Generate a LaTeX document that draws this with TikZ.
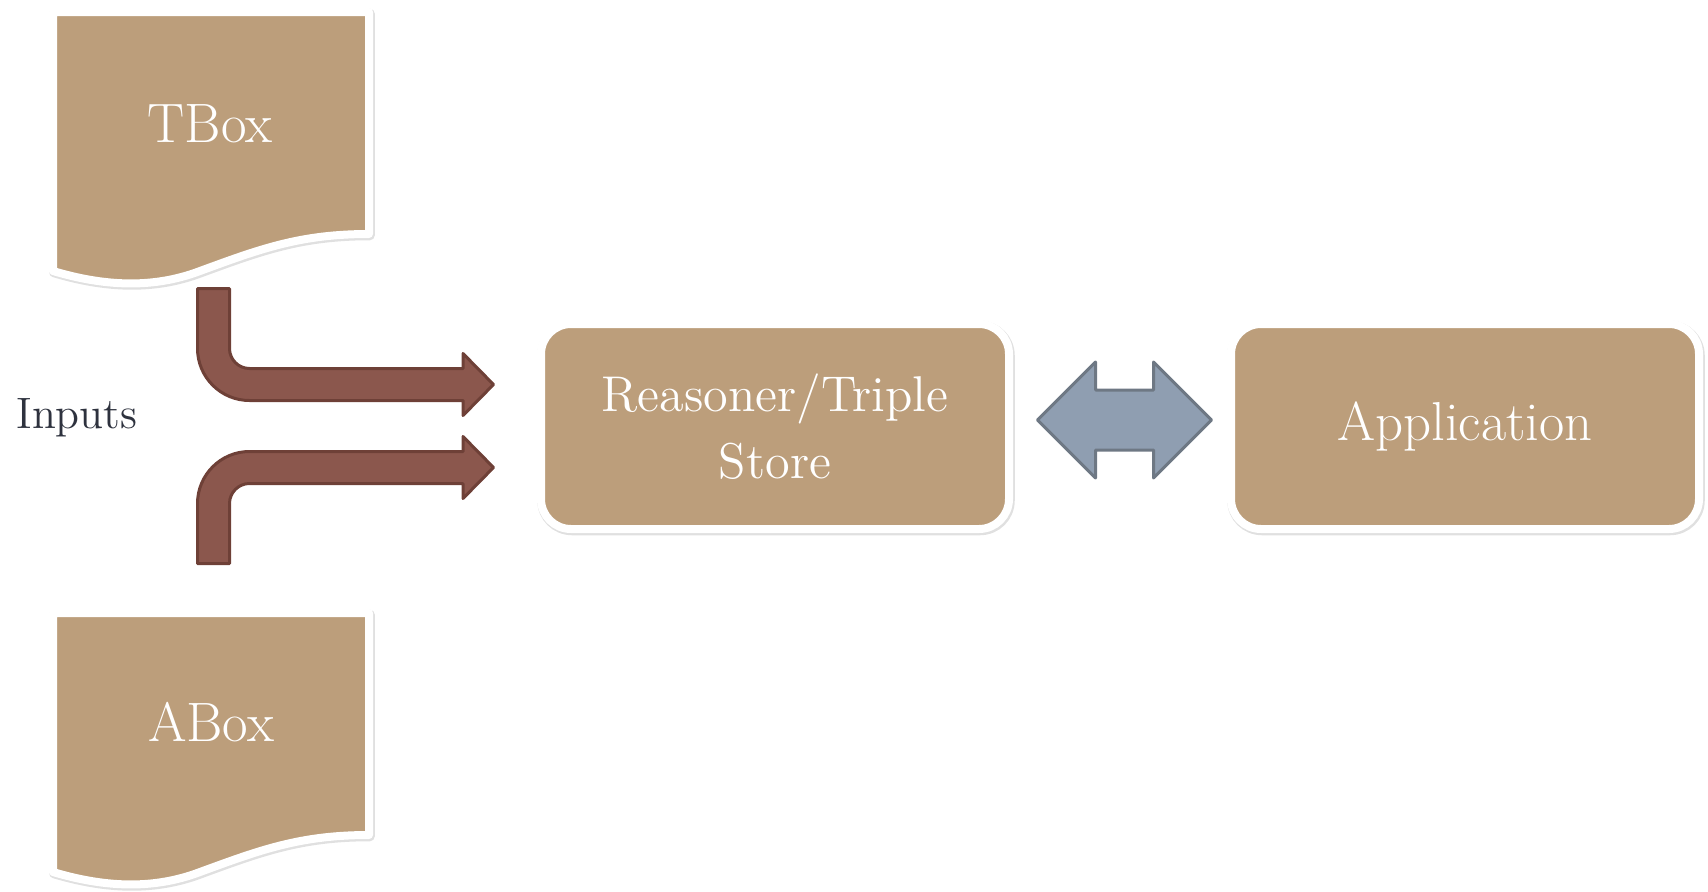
\documentclass[tikz,border=0pt]{standalone}
\usetikzlibrary{shapes.arrows}

\definecolor{tan}{RGB}{188,158,123}
\definecolor{rust}{RGB}{139,87,77}
\definecolor{rustline}{RGB}{110,64,55}
\definecolor{slate}{RGB}{143,158,177}
\definecolor{slateline}{RGB}{110,120,132}
\definecolor{inktext}{RGB}{46,50,62}

\tikzset{
    doc/.style={draw=white, fill=tan, line width=0.8mm, line join=round,
        preaction={draw=black!12, line width=0.95mm, line join=round,
            transform canvas={xshift=0.1mm, yshift=-0.15mm}}},
    card/.style={draw=white, fill=tan, line width=0.8mm, rounded corners=3mm,
        minimum width=46.8mm, minimum height=20.5mm, inner sep=0pt,
        text=white, align=center,
        preaction={draw=black!12, line width=0.95mm,
            transform canvas={xshift=0.1mm, yshift=-0.15mm}}},
    feed/.style={draw=rustline, fill=rust, line width=0.3mm, line join=round},
}

\begin{document}
\begin{tikzpicture}[x=0.1mm, y=-0.1mm]
    \useasboundingbox (0,0) rectangle (1708,891);

    % documents
    \draw[doc] (53,12) -- (369,12) -- (369,234)
        .. controls (300,234) and (260,249) .. (200,271)
        .. controls (150,290) and (100,285) .. (53,271) -- cycle;
    \draw[doc] (53,613) -- (369,613) -- (369,835)
        .. controls (300,835) and (260,850) .. (200,872)
        .. controls (150,891) and (100,886) .. (53,872) -- cycle;

    \node[anchor=base, text=white, font=\fontsize{15.8}{19}\selectfont] (tbox) at (210,142) {TBox};
    \node[anchor=base, text=white, font=\fontsize{15.8}{19}\selectfont] (abox) at (211,741) {ABox};
    \node[anchor=base, text=inktext, font=\fontsize{12.5}{15}\selectfont] (inputs) at (77,428) {Inputs};

    % bent input arrows
    \draw[feed] (197.5,288.5) -- (229.5,288.5) -- (229.5,348.5)
        .. controls (229.5,359.5) and (238.5,368.5) .. (249.5,368.5)
        -- (463,368.5) -- (463,353.5) -- (493.5,384.5) -- (463,415.5) -- (463,400.5)
        -- (249.5,400.5)
        .. controls (220.8,400.5) and (197.5,377.2) .. (197.5,348.5) -- cycle;
    \draw[feed] (197.5,563.5) -- (197.5,503.5)
        .. controls (197.5,474.8) and (220.8,451.5) .. (249.5,451.5)
        -- (463,451.5) -- (463,436.5) -- (493.5,467.5) -- (463,498.5) -- (463,483.5)
        -- (249.5,483.5)
        .. controls (238.5,483.5) and (229.5,492.5) .. (229.5,503.5)
        -- (229.5,563.5) -- cycle;

    \node[card, font=\fontsize{14.3}{19.1}\selectfont] (store) at (775,426.5) {Reasoner/Triple\\Store};
    \node[card, font=\fontsize{15.6}{18}\selectfont] (app) at (1465,426.5) {Application};

    \node[double arrow, draw=slateline, fill=slate, line width=0.3mm, line join=round,
        inner xsep=0pt, inner ysep=2.85mm, double arrow head extend=2.8mm,
        double arrow tip angle=90, minimum height=17.4mm] (link) at (1124.5,420) {};
\end{tikzpicture}
\end{document}
